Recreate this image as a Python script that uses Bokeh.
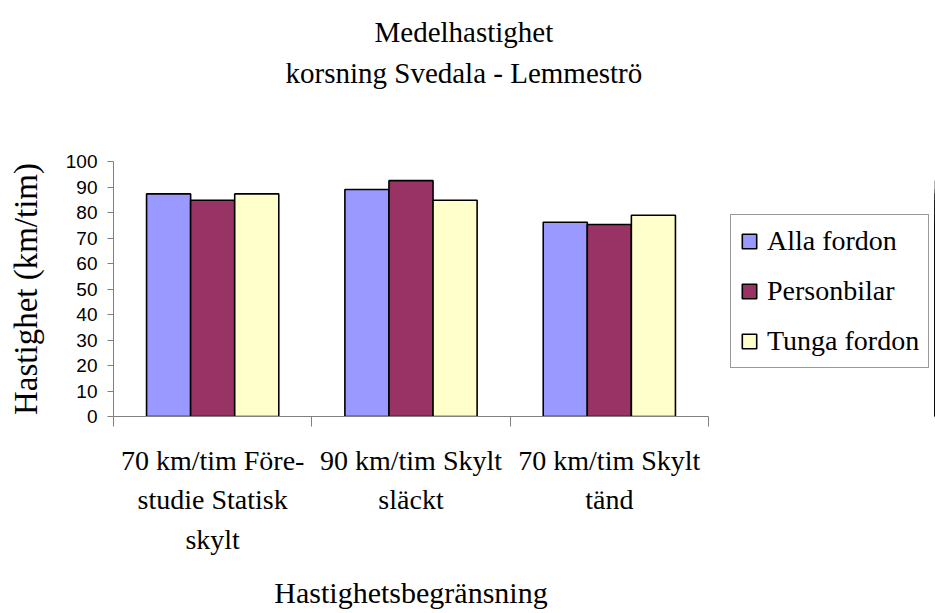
from bokeh.plotting import figure
from bokeh.models import (ColumnDataSource, FixedTicker, Range1d, Legend, LegendItem, Title)
from bokeh.transform import dodge
from bokeh.layouts import row
from bokeh.embed import file_html
from bokeh.resources import INLINE

# ---- data ----
categories = ["70 km/tim Före-\nstudie Statisk\nskylt", "90 km/tim Skylt\nsläckt", "70 km/tim Skylt\ntänd"]
alla_fordon = [87.3, 89.0, 76.2]
personbilar = [84.8, 92.5, 75.3]
tunga_fordon = [87.3, 84.8, 78.9]
series_names = ["Alla fordon", "Personbilar", "Tunga fordon"]
series_colors = ["#9999FF", "#993366", "#FFFFCC"]
y_ticks = [0, 10, 20, 30, 40, 50, 60, 70, 80, 90, 100]
title_lines = ["Medelhastighet", "korsning Svedala - Lemmeströ"]

positions = [i + 0.5 for i in range(len(categories))]
source = ColumnDataSource(dict(x=positions, a=alla_fordon, p=personbilar, t=tunga_fordon))
fields = ["a", "p", "t"]

SERIF = "Liberation Serif"
SANS = "Liberation Sans"

p = figure(width=720, height=613, output_backend="svg", toolbar_location=None,
           x_range=Range1d(0, len(categories)), y_range=Range1d(0, 100),
           min_border_left=113, min_border_right=12, min_border_top=161, min_border_bottom=197)
p.outline_line_color = None
p.grid.visible = False
p.background_fill_color = "white"
p.border_fill_color = "white"

bw = 2 / 9
offsets = [-bw, 0, bw]
for field, off, col in zip(fields, offsets, series_colors):
    p.vbar(x=dodge("x", off), top=field, width=bw, bottom=0, source=source,
           fill_color=col, line_color="black", line_width=1.6)

# x axis: labels at centres, minor ticks at category boundaries
p.xaxis.ticker = FixedTicker(ticks=positions, minor_ticks=[0, 1, 2, 3])
p.xaxis.major_label_overrides = {pos: lab for pos, lab in zip(positions, categories)}
p.xaxis.major_tick_line_color = None
p.xaxis.minor_tick_line_color = "#808080"
p.xaxis.minor_tick_out = 10
p.xaxis.minor_tick_in = 0
p.xaxis.axis_line_color = "#808080"
p.xaxis.major_label_text_font = SERIF
p.xaxis.major_label_text_font_size = "28px"
p.xaxis.major_label_text_line_height = 1.275
p.xaxis.major_label_text_color = "black"
p.xaxis.major_label_standoff = 18
p.xaxis.axis_label = "Hastighetsbegränsning"
p.xaxis.axis_label_text_font = SERIF
p.xaxis.axis_label_text_font_size = "30px"
p.xaxis.axis_label_text_font_style = "normal"
p.xaxis.axis_label_text_color = "black"
p.xaxis.axis_label_standoff = 18

# y axis
p.yaxis.ticker = FixedTicker(ticks=y_ticks)
p.yaxis.minor_tick_line_color = None
p.yaxis.major_tick_line_color = "#808080"
p.yaxis.major_tick_out = 6
p.yaxis.major_tick_in = 0
p.yaxis.axis_line_color = "#808080"
p.yaxis.major_label_text_font = SANS
p.yaxis.major_label_text_font_size = "19px"
p.yaxis.major_label_text_color = "black"
p.yaxis.major_label_standoff = 10
p.yaxis.axis_label = "Hastighet (km/tim)"
p.yaxis.axis_label_text_font = SERIF
p.yaxis.axis_label_text_font_size = "33px"
p.yaxis.axis_label_text_font_style = "normal"
p.yaxis.axis_label_text_color = "black"
p.yaxis.axis_label_standoff = 19

# title: spacer nearest the frame, then the two lines stacked above it
p.add_layout(Title(text=" ", text_font=SERIF, text_font_size="10px", standoff=55), "above")
p.add_layout(Title(text=title_lines[1], align="left", offset=172, vertical_align="middle",
                   text_font=SERIF, text_font_size="29px", text_font_style="normal",
                   text_color="black", standoff=7), "above")
p.add_layout(Title(text=title_lines[0], align="left", offset=261, vertical_align="middle",
                   text_font=SERIF, text_font_size="29px", text_font_style="normal",
                   text_color="black", standoff=7), "above")

# legend panel to the right of the plot (its bars lie outside its visible x range)
lg = figure(width=215, height=613, output_backend="svg", toolbar_location=None,
            x_range=Range1d(-3, -2), y_range=Range1d(0, 100),
            min_border=0, min_border_left=0, min_border_right=0,
            min_border_top=0, min_border_bottom=0)
lg.axis.visible = False
lg.grid.visible = False
lg.outline_line_color = None
lg.background_fill_color = "white"
lg.border_fill_color = "white"
items = []
for name, field, off, col in zip(series_names, fields, offsets, series_colors):
    r = lg.vbar(x=dodge("x", off), top=field, width=bw, bottom=0, source=source,
                fill_color=col, line_color="black", line_width=1.6)
    items.append(LegendItem(label=name, renderers=[r]))

legend = Legend(items=items, location=(10, 48), orientation="vertical",
                label_text_font=SERIF, label_text_font_size="28px", label_text_color="black",
                glyph_width=18, glyph_height=18, label_height=34, label_standoff=9,
                spacing=16, padding=9, margin=0,
                border_line_color="#333333", border_line_width=1,
                background_fill_color="white", background_fill_alpha=1)
lg.add_layout(legend, "center")

layout = row(p, lg)
open("out.html", "w").write(file_html(layout, INLINE))
